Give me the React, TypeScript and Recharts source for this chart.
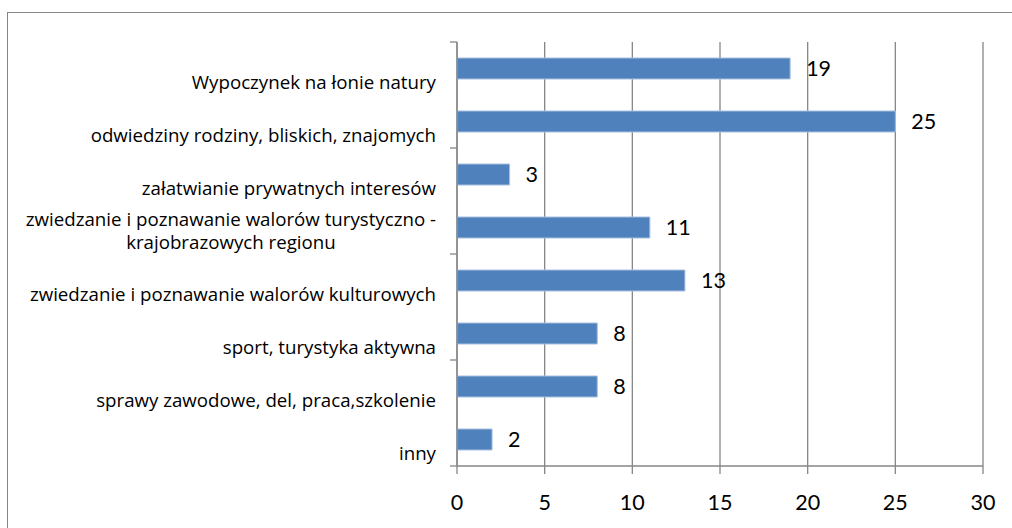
import React from 'react';
import { BarChart, Bar, XAxis, YAxis, CartesianGrid, LabelList } from 'recharts';

const categories: string[] = [
  'Wypoczynek na łonie natury',
  'odwiedziny rodziny, bliskich, znajomych',
  'załatwianie prywatnych interesów',
  'zwiedzanie i poznawanie walorów turystyczno -\nkrajobrazowych regionu',
  'zwiedzanie i poznawanie walorów kulturowych',
  'sport, turystyka aktywna',
  'sprawy zawodowe, del, praca,szkolenie',
  'inny',
];
const values: number[] = [19, 25, 3, 11, 13, 8, 8, 2];
const xTicks: number[] = [0, 5, 10, 15, 20, 25, 30];

const data = categories.map((name, i) => ({ name, value: values[i] }));

const CAT_FONT = '"Open Sans", "Liberation Sans", sans-serif';
const NUM_FONT = 'Lato, "Liberation Sans", sans-serif';
const CAT_SIZE = 18.7;
const NUM_SIZE = 21.5;
const GRAY = '#868686';
const PLOT_TOP = 42;
const PLOT_BOTTOM = 466;

function measure(text: string, size: number): number {
  try {
    const c = document.createElement('canvas');
    const ctx = c.getContext('2d');
    if (!ctx) return text.length * size * 0.5;
    ctx.font = `${size}px ${CAT_FONT}`;
    return ctx.measureText(text).width;
  } catch (e) {
    return text.length * size * 0.5;
  }
}

const CatTick = (props: any) => {
  const { x, y, payload, index } = props;
  const band = (PLOT_BOTTOM - PLOT_TOP) / categories.length;
  const lines: string[] = String(payload.value).split('\n');
  const right = x - 21;
  const els: React.ReactNode[] = [];
  if (lines.length === 1) {
    els.push(
      <text key="t" x={right} y={y + 13} textAnchor="end" dominantBaseline="central" fontSize={CAT_SIZE} fontFamily={CAT_FONT} fill="#000">
        {lines[0]}
      </text>
    );
  } else {
    const widths = lines.map((l) => measure(l, CAT_SIZE));
    const maxW = Math.max(...widths);
    const cx = right - maxW / 2;
    lines.forEach((l, i) => {
      els.push(
        <text key={'l' + i} x={cx} y={y - 9 + i * 23} textAnchor="middle" dominantBaseline="central" fontSize={CAT_SIZE} fontFamily={CAT_FONT} fill="#000">
          {l}
        </text>
      );
    });
  }
  if (index % 2 === 0) {
    els.push(<line key="tk" x1={x - 7} x2={x} y1={y - band / 2} y2={y - band / 2} stroke={GRAY} strokeWidth={1.3} />);
  }
  if (index === categories.length - 1) {
    els.push(<line key="tkb" x1={x - 7} x2={x} y1={y + band / 2} y2={y + band / 2} stroke={GRAY} strokeWidth={1.3} />);
  }
  return <g>{els}</g>;
};

export default function App() {
  return (
    <div style={{ position: 'absolute', left: 0, top: 0, width: 1012, height: 528, overflow: 'hidden', background: '#fff' }}>
      <div style={{ position: 'absolute', left: 7, top: 12, width: 1100, height: 600, border: `1px solid ${GRAY}` }} />
      <div style={{ position: 'absolute', left: 0, top: 0 }}>
        <BarChart
          width={1012}
          height={528}
          layout="vertical"
          data={data}
          margin={{ top: PLOT_TOP, right: 29, bottom: 0, left: 0 }}
        >
          <CartesianGrid horizontal={false} stroke={GRAY} strokeWidth={1.3} />
          <XAxis
            type="number"
            domain={[0, 30]}
            ticks={xTicks}
            interval={0}
            height={62}
            axisLine={{ stroke: GRAY, strokeWidth: 1.3 }}
            tickLine={{ stroke: GRAY, strokeWidth: 1.3 }}
            tickSize={8}
            tickMargin={21}
            tick={{ fontSize: NUM_SIZE, fontFamily: NUM_FONT, fill: '#000' }}
          />
          <YAxis
            type="category"
            dataKey="name"
            width={457}
            interval={0}
            axisLine={{ stroke: GRAY, strokeWidth: 1.3 }}
            tickLine={false}
            tickSize={0}
            tickMargin={0}
            tick={<CatTick />}
          />
          <Bar dataKey="value" fill="#4F81BD" stroke="#a9c0e0" strokeWidth={1} barSize={21} isAnimationActive={false}>
            <LabelList dataKey="value" position="right" offset={16} fontSize={NUM_SIZE} fontFamily={NUM_FONT} fill="#000" />
          </Bar>
        </BarChart>
      </div>
    </div>
  );
}
